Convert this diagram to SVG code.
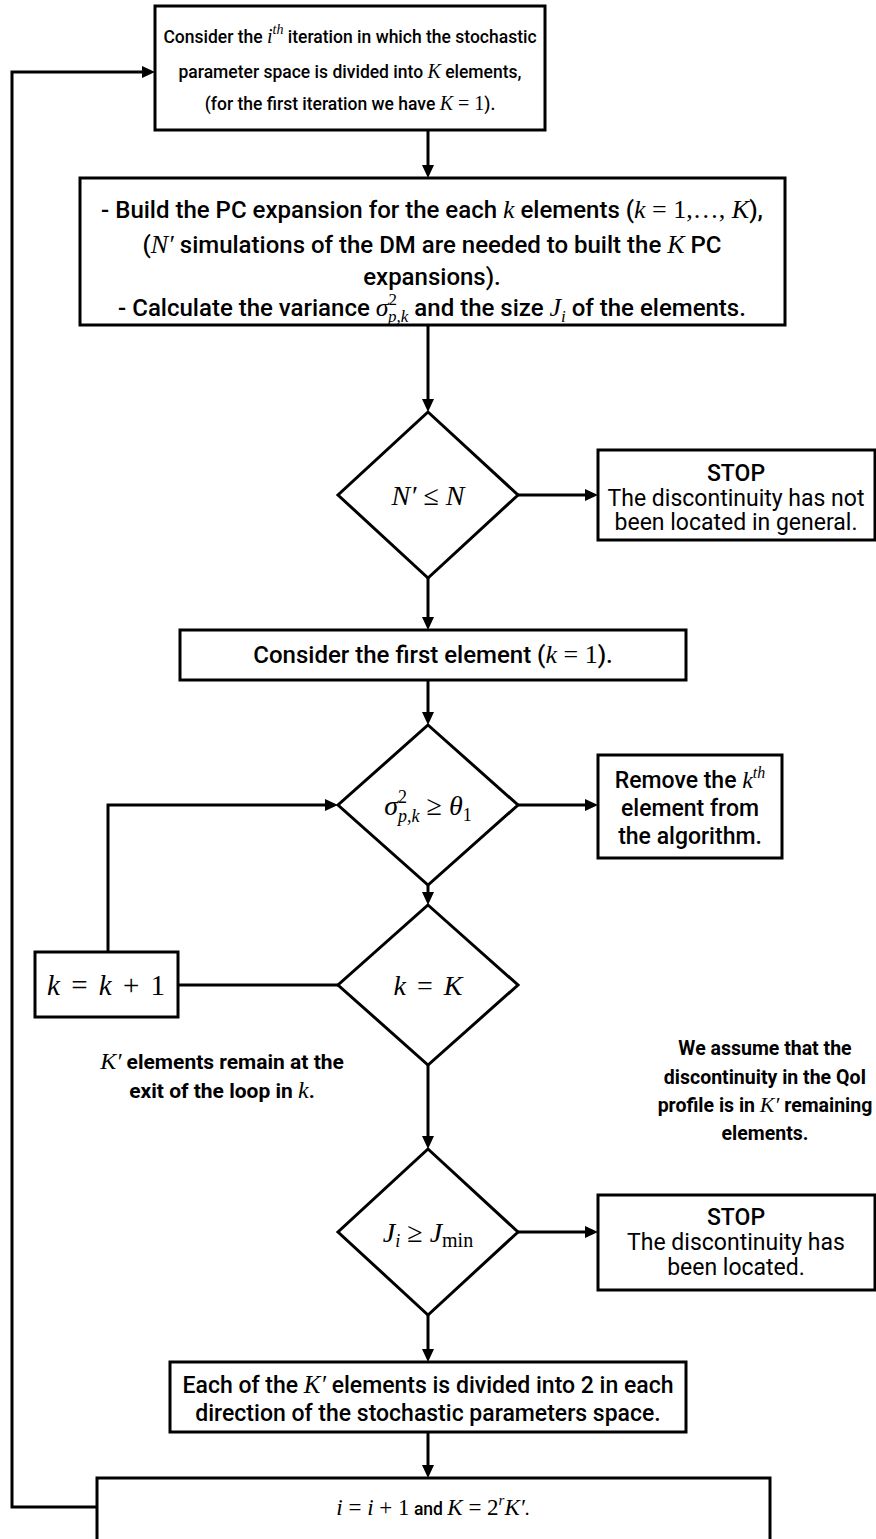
<svg xmlns="http://www.w3.org/2000/svg" width="876" height="1539" viewBox="0 0 876 1539">
<defs>
<marker id="ah" markerWidth="14" markerHeight="12" refX="9" refY="6" orient="auto" markerUnits="userSpaceOnUse"><path d="M0,0 L13,6 L0,12 z" fill="#000"/></marker>
<style>
.box{fill:#fff;stroke:#000;stroke-width:3}
.c{fill:none;stroke:#000;stroke-width:3}
.t{font-family:Roboto,"Liberation Sans",Arial,sans-serif;font-weight:500;font-size:17.5px;fill:#000;text-anchor:middle}
.t24{font-size:24px}
.t23{font-size:23px}
.t21{font-size:21px}
.t195{font-size:19.5px}
.n{font-weight:400}
.b{font-weight:700}
.m{font-family:"Liberation Serif","Times New Roman",serif;font-style:italic;font-weight:400}
.r{font-family:"Liberation Serif","Times New Roman",serif;font-style:normal;font-weight:400}
.big{font-size:28px}
.ws{word-spacing:4px}
</style>
</defs>
<rect width="876" height="1539" fill="#fff"/>
<g id="connectors">
<path class="c" d="M428,130 V174" marker-end="url(#ah)"/>
<path class="c" d="M428,325 V408" marker-end="url(#ah)"/>
<path class="c" d="M518,495 H594" marker-end="url(#ah)"/>
<path class="c" d="M428,578 V626" marker-end="url(#ah)"/>
<path class="c" d="M428,680 V721" marker-end="url(#ah)"/>
<path class="c" d="M518,805 H594" marker-end="url(#ah)"/>
<path class="c" d="M428,885 V901" marker-end="url(#ah)"/>
<path class="c" d="M178,985 H338"/>
<path class="c" d="M108,952 V805 H334" marker-end="url(#ah)"/>
<path class="c" d="M428,1065 V1145" marker-end="url(#ah)"/>
<path class="c" d="M518,1232 H594" marker-end="url(#ah)"/>
<path class="c" d="M428,1315 V1358" marker-end="url(#ah)"/>
<path class="c" d="M428,1432 V1474" marker-end="url(#ah)"/>
<path class="c" d="M97,1507 H12 V72 H151" marker-end="url(#ah)"/>
</g>
<g id="n1">
<rect class="box" x="155" y="6" width="390" height="124"/>
<text class="t" x="350" y="43">Consider the <tspan class="m" font-size="20">i</tspan><tspan class="m" font-size="14" dy="-9">th</tspan><tspan dy="9"> iteration in which the stochastic</tspan></text>
<text class="t" x="350" y="78">parameter space is divided into <tspan class="m" font-size="20">K</tspan> elements,</text>
<text class="t" x="350" y="110">(for the first iteration we have <tspan class="m" font-size="20">K</tspan><tspan class="r" font-size="20"> = 1</tspan>).</text>
</g>
<g id="n2">
<rect class="box" x="80" y="178" width="705" height="147"/>
<text class="t t24" x="432" y="218">- Build the PC expansion for the each <tspan class="m" font-size="26">k</tspan> elements (<tspan class="m" font-size="26">k</tspan><tspan class="r" font-size="26"> = 1,…, </tspan><tspan class="m" font-size="26">K</tspan>),</text>
<text class="t t24" x="432" y="253">(<tspan class="m" font-size="26">N′</tspan> simulations of the DM are needed to built the <tspan class="m" font-size="26">K</tspan> PC</text>
<text class="t t24" x="432" y="285">expansions).</text>
<text class="t t24" x="432" y="316">- Calculate the variance <tspan class="m" font-size="26">σ</tspan><tspan class="r" font-size="17" dy="-11">2</tspan><tspan class="m" font-size="17" dx="-9" dy="17">p,k</tspan><tspan dy="-6"> and the size </tspan><tspan class="m" font-size="26">J</tspan><tspan class="m" font-size="17" dy="6">i</tspan><tspan dy="-6"> of the elements.</tspan></text>
</g>
<g id="d1">
<path class="box" d="M428,412 L518,495 L428,578 L338,495 z"/>
<text class="t" x="428" y="505"><tspan class="m big">N′</tspan><tspan class="r big"> ≤ </tspan><tspan class="m big">N</tspan></text>
</g>
<g id="stop1">
<rect class="box" x="598" y="450" width="277" height="90"/>
<text class="t t23" x="736" y="481">STOP</text>
<text class="t t23 n" x="736" y="506">The discontinuity has not</text>
<text class="t t23 n" x="736" y="530">been located in general.</text>
</g>
<g id="n3">
<rect class="box" x="180" y="630" width="506" height="50"/>
<text class="t t24" x="433" y="663">Consider the first element (<tspan class="m" font-size="26">k</tspan><tspan class="r" font-size="26"> = 1</tspan>).</text>
</g>
<g id="d2">
<path class="box" d="M428,725 L518,805 L428,885 L338,805 z"/>
<text class="t" x="428" y="815"><tspan class="m big">σ</tspan><tspan class="r" font-size="18" dy="-12">2</tspan><tspan class="m" font-size="18" dx="-9" dy="19">p,k</tspan><tspan class="r big" dy="-7"> ≥ </tspan><tspan class="m big">θ</tspan><tspan class="r" font-size="18" dy="6">1</tspan></text>
</g>
<g id="remove">
<rect class="box" x="598" y="755" width="184" height="103"/>
<text class="t t23" x="690" y="788">Remove the <tspan class="m" font-size="24">k</tspan><tspan class="m" font-size="16" dy="-10">th</tspan></text>
<text class="t t23" x="690" y="816">element from</text>
<text class="t t23" x="690" y="844">the algorithm.</text>
</g>
<g id="d3">
<path class="box" d="M428,905 L518,985 L428,1065 L338,985 z"/>
<text class="t ws" x="428" y="995"><tspan class="m big">k</tspan><tspan class="r big"> = </tspan><tspan class="m big">K</tspan></text>
</g>
<g id="inc">
<rect class="box" x="35" y="952" width="143" height="65"/>
<text class="t ws" x="106" y="995"><tspan class="m" font-size="29">k</tspan><tspan class="r" font-size="29"> = </tspan><tspan class="m" font-size="29">k</tspan><tspan class="r" font-size="29"> + 1</tspan></text>
</g>
<g id="note-left">
<text class="t t21 b" x="222" y="1069"><tspan class="m" font-size="24">K′</tspan> elements remain at the</text>
<text class="t t21 b" x="222" y="1098">exit of the loop in <tspan class="m" font-size="24">k</tspan>.</text>
</g>
<g id="note-right">
<text class="t t195 b" x="765" y="1055">We assume that the</text>
<text class="t t195 b" x="765" y="1084">discontinuity in the QoI</text>
<text class="t t195 b" x="765" y="1112">profile is in <tspan class="m" font-size="22">K′</tspan> remaining</text>
<text class="t t195 b" x="765" y="1140">elements.</text>
</g>
<g id="d4">
<path class="box" d="M428,1149 L518,1232 L428,1315 L338,1232 z"/>
<text class="t" x="428" y="1242"><tspan class="m big">J</tspan><tspan class="m" font-size="18" dy="5">i</tspan><tspan class="r big" dy="-5"> ≥ </tspan><tspan class="m big">J</tspan><tspan class="r" font-size="20" dy="5">min</tspan></text>
</g>
<g id="stop2">
<rect class="box" x="598" y="1195" width="277" height="95"/>
<text class="t t23" x="736" y="1225">STOP</text>
<text class="t t23 n" x="736" y="1250">The discontinuity has</text>
<text class="t t23 n" x="736" y="1275">been located.</text>
</g>
<g id="n5">
<rect class="box" x="170" y="1362" width="516" height="70"/>
<text class="t t23" x="428" y="1393">Each of the <tspan class="m" font-size="25">K′</tspan> elements is divided into 2 in each</text>
<text class="t t23" x="428" y="1421">direction of the stochastic parameters space.</text>
</g>
<g id="n6">
<rect class="box" x="97" y="1478" width="673" height="80"/>
<text class="t" x="433" y="1515" font-size="20"><tspan class="m" font-size="23">i</tspan><tspan class="r" font-size="23"> = </tspan><tspan class="m" font-size="23">i</tspan><tspan class="r" font-size="23"> + 1</tspan> and <tspan class="m" font-size="23">K</tspan><tspan class="r" font-size="23"> = 2</tspan><tspan class="m" font-size="15" dy="-10">r</tspan><tspan class="m" font-size="23" dy="10">K′</tspan>.</text>
</g>
</svg>
